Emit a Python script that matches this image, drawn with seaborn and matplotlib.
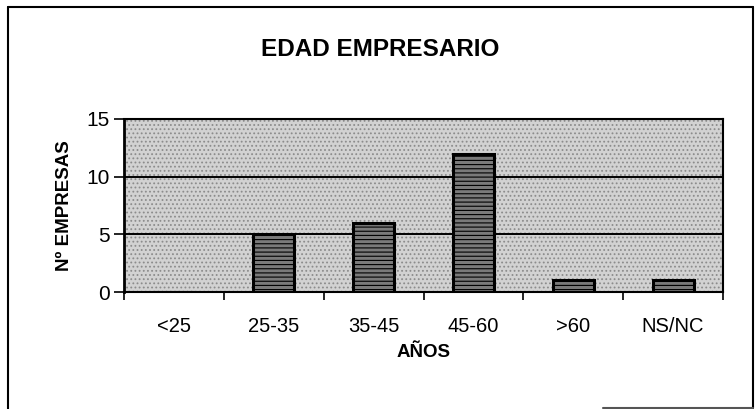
import matplotlib
matplotlib.use("Agg")
import matplotlib.pyplot as plt
import seaborn as sns
from matplotlib.patches import Rectangle
from matplotlib.lines import Line2D

categories = ['<25', '25-35', '35-45', '45-60', '>60', 'NS/NC']
empresas = [0, 5, 6, 12, 1, 1]
yticks = [0, 5, 10, 15]

sns.set_theme(style='white')
plt.rcParams['font.family'] = ['Liberation Sans Narrow', 'Liberation Sans', 'DejaVu Sans']
plt.rcParams['hatch.linewidth'] = 0.8
plt.rcParams['text.color'] = 'black'
plt.rcParams['axes.labelcolor'] = 'black'
plt.rcParams['xtick.color'] = 'black'
plt.rcParams['ytick.color'] = 'black'

fig = plt.figure(figsize=(7.56, 4.09), dpi=100)
ax = fig.add_axes([124/756, 1 - 292/409, (723 - 124)/756, (292 - 119)/409])

# stippled grey background of the plot area
ax.add_patch(Rectangle((0, 0), 1, 1, transform=ax.transAxes, facecolor='#d2d2d2',
                       edgecolor='#8c8c8c', hatch='....', lw=0, zorder=0))

sns.barplot(x=categories, y=empresas, color='#7a7a7a', width=0.41,
            edgecolor='black', linewidth=2.2, saturation=1, ax=ax, zorder=3)
for p in ax.patches[1:]:
    p.set_hatch('----')

ax.set_ylim(0, 15)
ax.set_xlim(-0.5, 5.5)
ax.set_yticks(yticks)
for v in yticks[1:-1]:
    ax.axhline(v, color='black', lw=1.4, zorder=2)

ax.set_xticks([i + 0.5 for i in range(-1, 6)], minor=True)
ax.tick_params(axis='x', which='minor', bottom=True, length=6, width=1.2, color='black', direction='out')
ax.tick_params(axis='x', which='major', bottom=False, labelsize=14.5, pad=12)
ax.tick_params(axis='y', left=True, length=7, width=1.2, color='black', labelsize=15, pad=3)
for s in ax.spines.values():
    s.set_visible(True)
    s.set_color('black')
    s.set_linewidth(1.5)
ax.spines['left'].set_linewidth(2)

ax.set_xlabel('AÑOS', fontsize=13.5, fontweight='bold', labelpad=6)
ax.set_ylabel('Nº EMPRESAS', fontsize=13.5, fontweight='bold', labelpad=10)
fig.text(380/756, 1 - 50/409, 'EDAD EMPRESARIO', ha='center', va='center',
         fontsize=17.5, fontweight='bold')

# outer chart frame
for xs, ys, c in [([8, 8], [0, 402], 'black'), ([8, 753], [402, 402], 'black'),
                  ([753, 753], [1, 402], 'black'), ([603, 753], [1, 1], '#555555')]:
    fig.add_artist(Line2D([x/756 for x in xs], [y/409 for y in ys], color=c, lw=1.5))

fig.savefig('out.png', dpi=100)
